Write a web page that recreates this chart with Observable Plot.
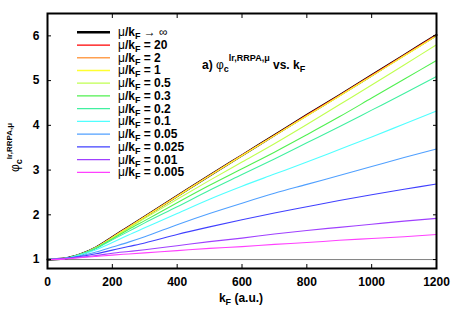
<!DOCTYPE html>
<html><head><meta charset="utf-8">
<script src="https://cdn.jsdelivr.net/npm/d3@7"></script>
<script src="https://cdn.jsdelivr.net/npm/@observablehq/plot@0.6"></script>
<style>
body{margin:0;background:#fff;}
#chart{position:relative;width:459px;height:322px;}
svg{font-family:"Liberation Sans",Arial,sans-serif;}
</style></head><body><div id="chart"></div>
<script>
// ---- data ----
const kF = [0,50,100,150,200,250,300,400,500,600,700,800,900,1000,1100,1200];
const muLabels = ["∞","20","2","1","0.5","0.3","0.2","0.1","0.05","0.025","0.01","0.005"];
const colors = ["#000000","#ff0000","#ffa050","#ffff30","#c0ff50","#50f050","#40f0a0","#50ffff","#50a0ff","#4040ff","#a040ff","#ff40ff"];
const phiInf   = [1,1.02,1.11,1.27,1.50,1.73,1.96,2.42,2.88,3.33,3.78,4.23,4.67,5.12,5.57,6.02];
const phi20    = [1,1.02,1.11,1.27,1.50,1.73,1.96,2.42,2.88,3.33,3.78,4.23,4.67,5.12,5.57,6.02];
const phi2     = [1,1.02,1.11,1.27,1.50,1.73,1.96,2.42,2.88,3.33,3.77,4.22,4.66,5.11,5.56,6.01];
const phi1     = [1,1.02,1.11,1.27,1.49,1.72,1.95,2.41,2.87,3.32,3.77,4.21,4.65,5.10,5.55,6.00];
const phi05    = [1,1.02,1.11,1.27,1.48,1.70,1.92,2.35,2.77,3.18,3.59,4.02,4.46,4.90,5.35,5.80];
const phi03    = [1,1.02,1.11,1.26,1.46,1.67,1.87,2.27,2.66,3.03,3.40,3.79,4.19,4.61,5.03,5.45];
const phi02    = [1,1.02,1.11,1.25,1.44,1.63,1.82,2.18,2.55,2.90,3.25,3.61,3.97,4.34,4.71,5.09];
const phi01    = [1,1.02,1.10,1.22,1.38,1.55,1.71,2.03,2.35,2.64,2.91,3.18,3.46,3.74,4.03,4.32];
const phi005   = [1,1.02,1.08,1.17,1.28,1.39,1.51,1.78,2.03,2.26,2.48,2.68,2.88,3.08,3.28,3.47];
const phi0025  = [1,1.02,1.07,1.13,1.21,1.29,1.37,1.56,1.73,1.89,2.04,2.18,2.32,2.45,2.57,2.69];
const phi001   = [1,1.02,1.05,1.09,1.14,1.18,1.22,1.31,1.40,1.48,1.57,1.65,1.72,1.79,1.86,1.92];
const phi0005  = [1,1.01,1.04,1.07,1.10,1.125,1.15,1.20,1.25,1.29,1.34,1.38,1.43,1.47,1.51,1.56];
const baseline = [1];
const xTicks = [0,200,400,600,800,1000,1200];
const yTicks = [1,2,3,4,5,6];

const seriesValues = [phiInf,phi20,phi2,phi1,phi05,phi03,phi02,phi01,phi005,phi0025,phi001,phi0005];
const rows = [];
seriesValues.forEach((vals,i)=>vals.forEach((v,j)=>rows.push({kF:kF[j], phi:v, s:i})));

const plot = Plot.plot({
  width:459, height:322,
  marginLeft:47, marginRight:23, marginTop:13, marginBottom:54,
  style:{fontFamily:"Liberation Sans, Arial, sans-serif", fontSize:"12px", fontWeight:"bold", color:"black", background:"white"},
  x:{domain:[0,1200], label:null},
  y:{domain:[0.8,6.5], label:null},
  marks:[
    Plot.ruleY(baseline, {stroke:"#808080", strokeWidth:1}),
    ...seriesValues.map((_,i)=>Plot.line(rows.filter(r=>r.s===i), {
      x:"kF", y:"phi", stroke:colors[i], strokeWidth: i===0 ? 2.2 : 1.1, curve:"monotone-x"
    })),
    Plot.axisX(xTicks, {anchor:"bottom", tickSize:-4, tickPadding:13, fontSize:12, fontWeight:"bold", tickFormat:d=>String(d)}),
    Plot.axisX(xTicks, {anchor:"top", tickSize:-4, fill:"none"}),
    Plot.axisY(yTicks, {anchor:"left", tickSize:-4, tickPadding:12, fontSize:12, fontWeight:"bold", tickFormat:d=>String(d)}),
    Plot.axisY(yTicks, {anchor:"right", tickSize:-4, fill:"none"}),
    Plot.frame({strokeWidth:2})
  ]
});
document.getElementById("chart").appendChild(plot);

const svg = d3.select(plot);
// legend
const lg = svg.append("g").attr("font-size",12).attr("font-weight","bold").attr("fill","black").attr("text-anchor","start");
muLabels.forEach((lab,i)=>{
  const y = 32.3 + i*12.73;
  lg.append("line").attr("x1",77).attr("x2",110).attr("y1",y).attr("y2",y)
    .attr("stroke",colors[i]).attr("stroke-width", i===0 ? 2.6 : 1.3);
  const t = lg.append("text").attr("x",118).attr("y",y+4).attr("text-anchor","start");
  t.append("tspan").attr("font-weight","normal").text("μ");
  t.append("tspan").text("/k");
  t.append("tspan").attr("font-size",9).attr("dy",3).text("F");
  if (i===0) {
    t.append("tspan").attr("dy",-3).attr("font-weight","normal").text(" → ∞");
  } else {
    t.append("tspan").attr("dy",-3).text(" = " + lab);
  }
});
// annotation
const an = svg.append("text").attr("x",202).attr("y",69).attr("font-size",12).attr("font-weight","bold").attr("text-anchor","start");
an.append("tspan").text("a) ");
an.append("tspan").attr("font-weight","normal").text("φ");
an.append("tspan").attr("font-size",9).attr("dy",3).text("c");
an.append("tspan").attr("font-size",9).attr("dy",-11).text("lr,RRPA,μ");
an.append("tspan").attr("dy",8).text(" vs. k");
an.append("tspan").attr("font-size",9).attr("dy",3).text("F");
// y label
const yl = svg.append("text").attr("transform","translate(19,172) rotate(-90)").attr("font-size",12).attr("font-weight","bold").attr("text-anchor","start");
yl.append("tspan").attr("font-weight","normal").text("φ");
yl.append("tspan").attr("font-size",9).attr("dy",3).text("c");
yl.append("tspan").attr("font-size",8).attr("dy",-10).text("lr,RRPA,μ");
// x label
const xl = svg.append("text").attr("x",241).attr("y",302).attr("text-anchor","middle").attr("font-size",12).attr("font-weight","bold");
xl.append("tspan").text("k");
xl.append("tspan").attr("font-size",9).attr("dy",3).text("F");
xl.append("tspan").attr("dy",-3).text(" (a.u.)");
</script>
</body></html>
